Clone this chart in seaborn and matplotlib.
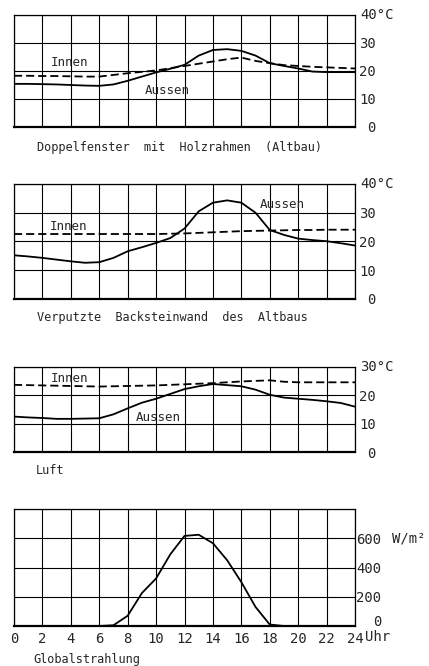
import numpy as np
import pandas as pd
import matplotlib
matplotlib.use("Agg")
import matplotlib.pyplot as plt
import matplotlib.transforms as mtransforms
import seaborn as sns

# Stunden 0..24
HOURS = list(range(25))

# Doppelfenster mit Holzrahmen (Altbau), °C
P1_AUSSEN = [15.4, 15.4, 15.3, 15.2, 15.0, 14.8, 14.7, 15.2, 16.5, 18.0, 19.5, 20.8, 22.2,
             25.5, 27.5, 27.8, 27.2, 25.5, 22.8, 21.8, 20.9, 19.8, 19.6, 19.6, 19.6]
P1_INNEN = [18.3, 18.3, 18.2, 18.2, 18.1, 18.0, 18.0, 18.6, 19.2, 19.7, 20.2, 21.0, 21.8,
            22.6, 23.4, 24.2, 24.8, 23.6, 22.8, 22.1, 21.8, 21.5, 21.3, 21.1, 20.9]

# Verputzte Backsteinwand des Altbaus, °C
P2_AUSSEN = [15.2, 14.8, 14.3, 13.7, 13.1, 12.6, 12.8, 14.3, 16.6, 18.0, 19.5, 21.2, 24.5,
             30.5, 33.5, 34.3, 33.5, 30.0, 24.0, 22.3, 21.0, 20.5, 20.1, 19.4, 18.6]
P2_INNEN = [22.6, 22.6, 22.6, 22.6, 22.6, 22.6, 22.6, 22.6, 22.6, 22.6, 22.6, 22.7, 22.8,
            23.0, 23.2, 23.4, 23.6, 23.7, 23.8, 23.9, 24.0, 24.0, 24.1, 24.1, 24.1]

# Luft, °C
P3_AUSSEN = [12.5, 12.2, 12.0, 11.7, 11.7, 11.8, 11.9, 13.3, 15.4, 17.4, 18.8, 20.5, 22.2,
             23.2, 24.0, 23.6, 23.2, 22.0, 20.2, 19.2, 18.8, 18.4, 17.9, 17.3, 16.0]
P3_INNEN = [23.7, 23.6, 23.5, 23.4, 23.3, 23.2, 23.1, 23.2, 23.3, 23.4, 23.5, 23.7, 23.9,
            24.1, 24.3, 24.6, 24.9, 25.1, 25.3, 24.8, 24.6, 24.6, 24.6, 24.6, 24.6]

# Globalstrahlung, W/m2
P4_STRAHLUNG = [0, 0, 0, 0, 0, 0, 0, 5, 70, 225, 325, 490, 616,
                624, 566, 450, 300, 130, 10, 0, 0, 0, 0, 0, 0]

CAPTIONS = ["Doppelfenster  mit  Holzrahmen  (Altbau)",
            "Verputzte  Backsteinwand  des  Altbaus",
            "Luft",
            "Globalstrahlung"]

sns.set_style("white")
plt.rcParams["font.family"] = ["DejaVu Sans Mono"]
plt.rcParams["font.size"] = 9

W, H = 429, 666
fig = plt.figure(figsize=(W / 100, H / 100), dpi=100)

DASH = (0, (4.5, 2.2))


def add_axes(top, bottom, left=14, right=355):
    return fig.add_axes([left / W, 1 - bottom / H, (right - left) / W, (bottom - top) / H])


def style_axes(ax, ymax, ystep, show_x=False, ypad=15):
    ax.set_xlim(0, 24)
    ax.set_ylim(0, ymax)
    ax.set_xticks(range(0, 25, 2))
    ax.set_yticks(np.arange(0, ymax + 1, ystep))
    ax.grid(True, color="black", linewidth=0.8)
    ax.set_axisbelow(True)
    for s in ax.spines.values():
        s.set_color("black")
        s.set_linewidth(0.9)
    ax.spines["bottom"].set_linewidth(1.6)
    ax.yaxis.tick_right()
    ax.tick_params(axis="y", length=0, pad=ypad, labelsize=10)
    ax.tick_params(axis="x", length=0, pad=4, labelsize=10)
    labels = [str(int(v)) if v < ymax else "" for v in ax.get_yticks()]
    ax.set_yticklabels(labels)
    for lbl in ax.get_yticklabels():
        lbl.set_ha("right")
    if not show_x:
        ax.set_xticklabels([])
    ax.set_xlabel("")
    ax.set_ylabel("")


def temp_panel(ax, aussen, innen, ymax):
    df = pd.DataFrame({"Stunde": HOURS, "Aussen": aussen, "Innen": innen})
    sns.lineplot(data=df, x="Stunde", y="Aussen", color="black", linewidth=1.3, ax=ax)
    sns.lineplot(data=df, x="Stunde", y="Innen", color="black", linewidth=1.3,
                 linestyle=DASH, ax=ax)
    style_axes(ax, ymax, 10)
    ax.text(1.015, 1.0, str(ymax) + "°C", transform=ax.transAxes, ha="left",
            va="center", fontsize=10)


ax1 = add_axes(15, 127)
temp_panel(ax1, P1_AUSSEN, P1_INNEN, 40)
ax1.text(2.6, 23.0, "Innen", fontsize=9, va="center")
ax1.text(9.2, 13.0, "Aussen", fontsize=9, va="center")

ax2 = add_axes(184, 299)
temp_panel(ax2, P2_AUSSEN, P2_INNEN, 40)
ax2.text(2.5, 25.3, "Innen", fontsize=9, va="center")
ax2.text(17.3, 33.0, "Aussen", fontsize=9, va="center")

ax3 = add_axes(367, 452)
temp_panel(ax3, P3_AUSSEN, P3_INNEN, 30)
ax3.text(2.6, 25.9, "Innen", fontsize=9, va="center")
ax3.text(8.6, 12.1, "Aussen", fontsize=9, va="center")

ax4 = add_axes(509, 626)
df4 = pd.DataFrame({"Stunde": HOURS, "Strahlung": P4_STRAHLUNG})
sns.lineplot(data=df4, x="Stunde", y="Strahlung", color="black", linewidth=1.3, ax=ax4)
style_axes(ax4, 800, 200, show_x=True, ypad=19)
# die Null der Strahlungsskala sitzt etwas hoeher, ueber "24 Uhr"
zero_lbl = ax4.get_yticklabels()[0]
zero_lbl.set_transform(zero_lbl.get_transform() +
                       mtransforms.ScaledTranslation(0, 4 / 72, fig.dpi_scale_trans))
ax4.text(1.108, 600 / 800, "W/m²", transform=ax4.transAxes, ha="left", va="center",
         fontsize=10)
ax4.text(1.03, -0.094, "Uhr", transform=ax4.transAxes, ha="left", va="center",
         fontsize=10)

for cap, y_px, x_px in zip(CAPTIONS, [147, 318, 471, 660], [37, 37, 36, 33]):
    fig.text(x_px / W, 1 - y_px / H, cap, ha="left", va="center", fontsize=8.6)

fig.savefig("out.png", dpi=100, facecolor="white")
